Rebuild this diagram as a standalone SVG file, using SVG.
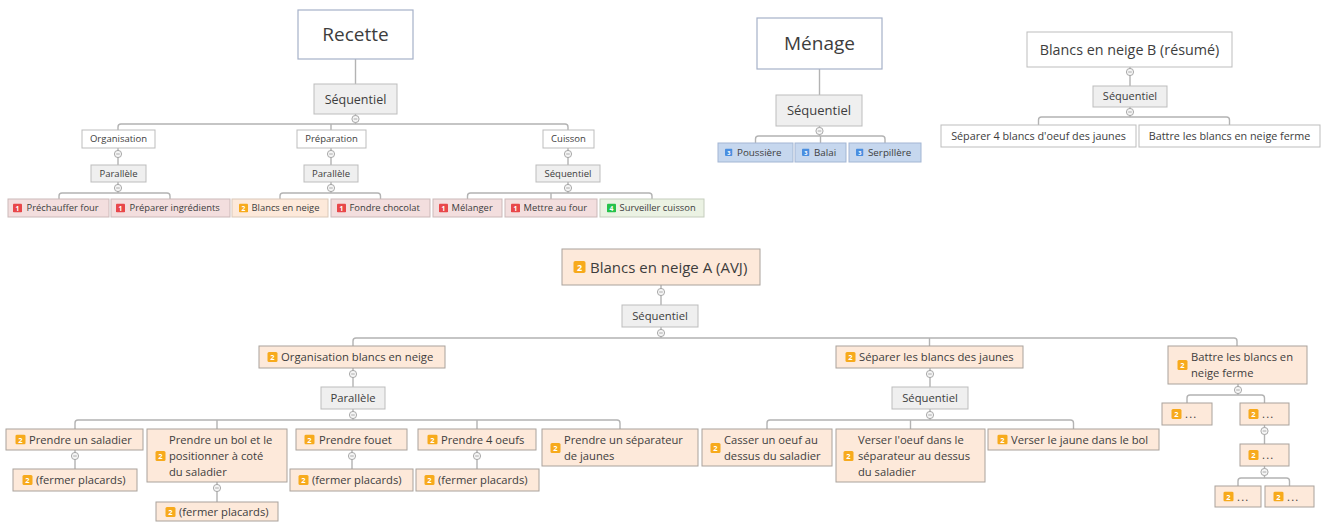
<svg xmlns="http://www.w3.org/2000/svg" xmlns:xlink="http://www.w3.org/1999/xlink" width="1323" height="522" viewBox="0 0 1323 522">
<style>
.ln{fill:none;stroke:#b3b3b3;stroke-width:1.4}
.root{fill:#fff;stroke:#a6b1c9;stroke-width:1.2}
.wh{fill:#fff;stroke:#bdbdbd;stroke-width:1}
.seq{fill:#efefef;stroke:#bdbdbd;stroke-width:1}
.red{fill:#f3dede;stroke:#cbb9b9;stroke-width:1}
.org{fill:#fde9da;stroke:#a9a29c;stroke-width:1}
.orgt{fill:#fde9da;stroke:#d9c8b9;stroke-width:1}
.grn{fill:#ebf2e3;stroke:#c5cdbd;stroke-width:1}
.blu{fill:#c6d7ee;stroke:#a3b6d3;stroke-width:1}
text{font-family:"Open Sans","Liberation Sans",sans-serif;fill:#3d3d3d}
.c{text-anchor:middle}
.bn{font-family:"Open Sans","Liberation Sans",sans-serif;font-weight:bold;fill:#fff;text-anchor:middle}
</style>
<defs>
<symbol id="b1" viewBox="0 0 10 10"><rect width="10" height="10" rx="1.5" fill="#e8474a"/><text class="bn" x="5" y="8" font-size="7.5">1</text></symbol>
<symbol id="b2" viewBox="0 0 10 10"><rect width="10" height="10" rx="1.5" fill="#f7aa1c"/><text class="bn" x="5" y="8" font-size="7.5">2</text></symbol>
<symbol id="b3" viewBox="0 0 10 10"><rect width="10" height="10" rx="1.5" fill="#4a8ee0"/><text class="bn" x="5" y="8" font-size="7.5">3</text></symbol>
<symbol id="b4" viewBox="0 0 10 10"><rect width="10" height="10" rx="1.5" fill="#26c24b"/><text class="bn" x="5" y="8" font-size="7.5">4</text></symbol>
<g id="col"><circle r="3.6" fill="#f5f5f5" stroke="#a0a0a0" stroke-width="0.9"/><line x1="-1.8" y1="0" x2="1.8" y2="0" stroke="#9a9a9a" stroke-width="0.8"/></g>
</defs>
<rect width="1323" height="522" fill="#fff"/>

<g id="connectors">
<path class="ln" d="M355.5,59 V84 M355.5,114 V124 M118,130 V127 Q118,124 121,124 H565 Q568,124 568,127 V130 M331,124 V130"/>
<path class="ln" d="M118,148 V165 M118,182 V193 M59,199 V196 Q59,193 62,193 H167 Q170,193 170,196 V199"/>
<path class="ln" d="M331,148 V165 M331,182 V193 M280,199 V196 Q280,193 283,193 H377.5 Q380.5,193 380.5,196 V199"/>
<path class="ln" d="M568,148 V165 M568,182 V193 M467.5,199 V196 Q467.5,193 470.5,193 H649 Q652,193 652,196 V199 M551,193 V199"/>
<path class="ln" d="M819.5,69 V95 M819.5,126 V136 M755.5,143 V139 Q755.5,136 758.5,136 H882 Q885,136 885,139 V143 M820.5,136 V143"/>
<path class="ln" d="M1130,67 V86 M1130,107 V117 M1038.5,125 V120 Q1038.5,117 1041.5,117 H1226.5 Q1229.5,117 1229.5,120 V125"/>
<path class="ln" d="M661,285 V305 M661,327 V338 M353,346 V341 Q353,338 356,338 H1234 Q1237,338 1237,341 V346 M929.5,338 V346"/>
<path class="ln" d="M353,368 V387 M353,409 V420 M75,429 V423 Q75,420 78,420 H617 Q620,420 620,423 V429 M217,420 V429 M477,420 V429"/>
<path class="ln" d="M75,450 V469 M217,482 V502 M352,450 V469 M477,450 V469"/>
<path class="ln" d="M930,368 V387 M930,409 V420 M767,429 V423 Q767,420 770,420 H1070.5 Q1073.5,420 1073.5,423 V429 M910.5,420 V429"/>
<path class="ln" d="M1238,384 V395 M1187,403 V398 Q1187,395 1190,395 H1261.5 Q1264.5,395 1264.5,398 V403 M1264.5,425 V444 M1264.5,466 V478 M1238,486 V481 Q1238,478 1241,478 H1286.5 Q1289.5,478 1289.5,481 V486"/>
<use href="#col" x="355.5" y="119"/>
<use href="#col" x="118" y="154"/><use href="#col" x="118" y="188"/>
<use href="#col" x="331" y="154"/><use href="#col" x="331" y="188"/>
<use href="#col" x="568" y="154"/><use href="#col" x="568" y="188"/>
<use href="#col" x="819.5" y="131"/>
<use href="#col" x="1130" y="72"/><use href="#col" x="1130" y="112"/>
<use href="#col" x="661" y="292"/><use href="#col" x="661" y="333"/>
<use href="#col" x="353" y="374"/><use href="#col" x="353" y="415"/>
<use href="#col" x="75" y="456"/><use href="#col" x="217" y="488"/>
<use href="#col" x="352" y="456"/><use href="#col" x="477" y="456"/>
<use href="#col" x="930" y="374"/><use href="#col" x="930" y="415"/>
<use href="#col" x="1238" y="390"/><use href="#col" x="1264.5" y="431"/><use href="#col" x="1264.5" y="472"/>
</g>

<!-- Recette -->
<g id="recette"><rect class="root" x="298" y="10" width="115" height="49"/><text class="c" x="355.5" y="41" font-size="19">Recette</text></g>
<g id="recette-seq"><rect class="seq" x="314" y="84" width="83" height="30"/><text class="c" x="355.5" y="103.5" font-size="12.5">Séquentiel</text></g>
<g id="organisation"><rect class="wh" x="82" y="130" width="73" height="18"/><text class="c" x="118.5" y="142.4" font-size="9.5">Organisation</text></g>
<g id="organisation-par"><rect class="seq" x="91" y="165" width="55" height="17"/><text class="c" x="118.5" y="176.8" font-size="9.5">Parallèle</text></g>
<g id="prechauffer"><rect class="red" x="8" y="199" width="101" height="18"/><use href="#b1" x="13" y="203.5" width="9" height="9"/><text x="26.5" y="211.4" font-size="9.4">Préchauffer four</text></g>
<g id="preparer"><rect class="red" x="111" y="199" width="119" height="18"/><use href="#b1" x="116" y="203.5" width="9" height="9"/><text x="129.5" y="211.4" font-size="9.4">Préparer ingrédients</text></g>
<g id="preparation"><rect class="wh" x="297" y="130" width="69" height="18"/><text class="c" x="331.5" y="142.4" font-size="9.5">Préparation</text></g>
<g id="preparation-par"><rect class="seq" x="304" y="165" width="54" height="17"/><text class="c" x="331" y="176.8" font-size="9.5">Parallèle</text></g>
<g id="blancs"><rect class="orgt" x="232" y="199" width="96" height="18"/><use href="#b2" x="239" y="203.5" width="9" height="9"/><text x="251.5" y="211.4" font-size="9.4">Blancs en neige</text></g>
<g id="fondre"><rect class="red" x="331" y="199" width="99" height="18"/><use href="#b1" x="337" y="203.5" width="9" height="9"/><text x="349.5" y="211.4" font-size="9.4">Fondre chocolat</text></g>
<g id="cuisson"><rect class="wh" x="543" y="130" width="51" height="18"/><text class="c" x="568.5" y="142.4" font-size="9.5">Cuisson</text></g>
<g id="cuisson-seq"><rect class="seq" x="536" y="165" width="64" height="17"/><text class="c" x="568" y="176.8" font-size="9.5">Séquentiel</text></g>
<g id="melanger"><rect class="red" x="433" y="199" width="69" height="18"/><use href="#b1" x="439" y="203.5" width="9" height="9"/><text x="451.5" y="211.4" font-size="9.4">Mélanger</text></g>
<g id="mettre"><rect class="red" x="505" y="199" width="92" height="18"/><use href="#b1" x="511" y="203.5" width="9" height="9"/><text x="523.5" y="211.4" font-size="9.4">Mettre au four</text></g>
<g id="surveiller"><rect class="grn" x="600" y="199" width="104" height="18"/><use href="#b4" x="607" y="203.5" width="9" height="9"/><text x="619.5" y="211.4" font-size="9.4">Surveiller cuisson</text></g>

<!-- Ménage -->
<g id="menage"><rect class="root" x="757" y="18" width="125" height="51"/><text class="c" x="819.5" y="50" font-size="19">Ménage</text></g>
<g id="menage-seq"><rect class="seq" x="776" y="95" width="86" height="31"/><text class="c" x="819" y="115" font-size="13">Séquentiel</text></g>
<g id="poussiere"><rect class="blu" x="718" y="143" width="75" height="19"/><use href="#b3" x="725" y="148.5" width="7.5" height="7.5"/><text x="737" y="156" font-size="9.8">Poussière</text></g>
<g id="balai"><rect class="blu" x="795" y="143" width="51" height="19"/><use href="#b3" x="802" y="148.5" width="7.5" height="7.5"/><text x="814" y="156" font-size="9.8">Balai</text></g>
<g id="serpillere"><rect class="blu" x="849" y="143" width="72" height="19"/><use href="#b3" x="856" y="148.5" width="7.5" height="7.5"/><text x="868" y="156" font-size="9.8">Serpillère</text></g>

<!-- Blancs en neige B -->
<g id="blancs-b"><rect class="wh" x="1027" y="32" width="205" height="35"/><text class="c" x="1129.5" y="54.5" font-size="14.3">Blancs en neige B (résumé)</text></g>
<g id="blancs-b-seq"><rect class="seq" x="1093" y="86" width="74" height="21"/><text class="c" x="1130" y="100.4" font-size="11">Séquentiel</text></g>
<g id="b-separer"><rect class="wh" x="941" y="125" width="195" height="22"/><text class="c" x="1038.5" y="139.8" font-size="10.8">Séparer 4 blancs d'oeuf des jaunes</text></g>
<g id="b-battre"><rect class="wh" x="1139" y="125" width="181" height="22"/><text class="c" x="1229.5" y="139.8" font-size="10.8">Battre les blancs en neige ferme</text></g>

<!-- Blancs en neige A -->
<g id="blancs-a"><rect class="org" x="562" y="249" width="198" height="36"/><use href="#b2" x="573" y="261" width="13" height="12"/><text x="590" y="272.5" font-size="15">Blancs en neige A (AVJ)</text></g>
<g id="blancs-a-seq"><rect class="seq" x="622" y="305" width="76" height="22"/><text class="c" x="660" y="320" font-size="11.3">Séquentiel</text></g>
<g id="org-blancs"><rect class="org" x="259" y="346" width="186" height="22"/><use href="#b2" x="267" y="352" width="11" height="10"/><text x="281" y="361" font-size="11.3">Organisation blancs en neige</text></g>
<g id="org-par"><rect class="seq" x="321" y="387" width="64" height="22"/><text class="c" x="353" y="402" font-size="11.3">Parallèle</text></g>
<g id="saladier"><rect class="org" x="6" y="429" width="137" height="21"/><use href="#b2" x="15" y="434.5" width="11" height="10"/><text x="29" y="443.5" font-size="11.2">Prendre un saladier</text></g>
<g id="fermer1"><rect class="org" x="13" y="469" width="124" height="22"/><use href="#b2" x="22" y="475" width="11" height="10"/><text x="36" y="484" font-size="11.2">(fermer placards)</text></g>
<g id="bol"><rect class="org" x="147" y="429" width="140" height="53"/><use href="#b2" x="155" y="451" width="11" height="10"/><text x="169" y="443.5" font-size="11.2">Prendre un bol et le</text><text x="169" y="459.5" font-size="11.2">positionner à coté</text><text x="169" y="475.5" font-size="11.2">du saladier</text></g>
<g id="fermer2"><rect class="org" x="156" y="502" width="122" height="19"/><use href="#b2" x="165" y="507" width="11" height="10"/><text x="179" y="516" font-size="11.2">(fermer placards)</text></g>
<g id="fouet"><rect class="org" x="296" y="429" width="111" height="21"/><use href="#b2" x="304" y="434.5" width="11" height="10"/><text x="319" y="443.5" font-size="11.2">Prendre fouet</text></g>
<g id="fermer3"><rect class="org" x="290" y="469" width="123" height="22"/><use href="#b2" x="298" y="475" width="11" height="10"/><text x="312" y="484" font-size="11.2">(fermer placards)</text></g>
<g id="oeufs"><rect class="org" x="418" y="429" width="118" height="21"/><use href="#b2" x="427" y="434.5" width="11" height="10"/><text x="441" y="443.5" font-size="11.2">Prendre 4 oeufs</text></g>
<g id="fermer4"><rect class="org" x="416" y="469" width="123" height="22"/><use href="#b2" x="424" y="475" width="11" height="10"/><text x="438" y="484" font-size="11.2">(fermer placards)</text></g>
<g id="separateur"><rect class="org" x="542" y="429" width="156" height="37"/><use href="#b2" x="550" y="443" width="11" height="10"/><text x="564" y="443.5" font-size="11.2">Prendre un séparateur</text><text x="564" y="459.5" font-size="11.2">de jaunes</text></g>
<g id="separer"><rect class="org" x="836" y="346" width="187" height="22"/><use href="#b2" x="845" y="352" width="11" height="10"/><text x="859" y="361" font-size="11.3">Séparer les blancs des jaunes</text></g>
<g id="separer-seq"><rect class="seq" x="892" y="387" width="76" height="22"/><text class="c" x="930" y="402" font-size="11.3">Séquentiel</text></g>
<g id="casser"><rect class="org" x="702" y="429" width="130" height="37"/><use href="#b2" x="710" y="443" width="11" height="10"/><text x="724" y="443.5" font-size="11.2">Casser un oeuf au</text><text x="724" y="459.5" font-size="11.2">dessus du saladier</text></g>
<g id="verser-oeuf"><rect class="org" x="836" y="429" width="149" height="53"/><use href="#b2" x="843" y="451" width="11" height="10"/><text x="858" y="443.5" font-size="11.2">Verser l'oeuf dans le</text><text x="858" y="459.5" font-size="11.2">séparateur au dessus</text><text x="858" y="475.5" font-size="11.2">du saladier</text></g>
<g id="verser-jaune"><rect class="org" x="988" y="429" width="171" height="21"/><use href="#b2" x="997" y="434.5" width="11" height="10"/><text x="1011" y="443.5" font-size="11.2">Verser le jaune dans le bol</text></g>
<g id="battre"><rect class="org" x="1168" y="346" width="139" height="38"/><use href="#b2" x="1177" y="360" width="11" height="10"/><text x="1191" y="360.5" font-size="11.2">Battre les blancs en</text><text x="1191" y="376.5" font-size="11.2">neige ferme</text></g>
<g id="dots1"><rect class="org" x="1162" y="403" width="50" height="22"/><use href="#b2" x="1171" y="409" width="11" height="10"/><text x="1185" y="418" font-size="11.2" letter-spacing="1.2">...</text></g>
<g id="dots2"><rect class="org" x="1240" y="403" width="49" height="22"/><use href="#b2" x="1248" y="409" width="11" height="10"/><text x="1262" y="418" font-size="11.2" letter-spacing="1.2">...</text></g>
<g id="dots3"><rect class="org" x="1240" y="444" width="49" height="22"/><use href="#b2" x="1248" y="450" width="11" height="10"/><text x="1262" y="459" font-size="11.2" letter-spacing="1.2">...</text></g>
<g id="dots4"><rect class="org" x="1215" y="486" width="46" height="21"/><use href="#b2" x="1223" y="491.5" width="11" height="10"/><text x="1237" y="500.5" font-size="11.2" letter-spacing="1.2">...</text></g>
<g id="dots5"><rect class="org" x="1265" y="486" width="49" height="21"/><use href="#b2" x="1273" y="491.5" width="11" height="10"/><text x="1287" y="500.5" font-size="11.2" letter-spacing="1.2">...</text></g>
</svg>
